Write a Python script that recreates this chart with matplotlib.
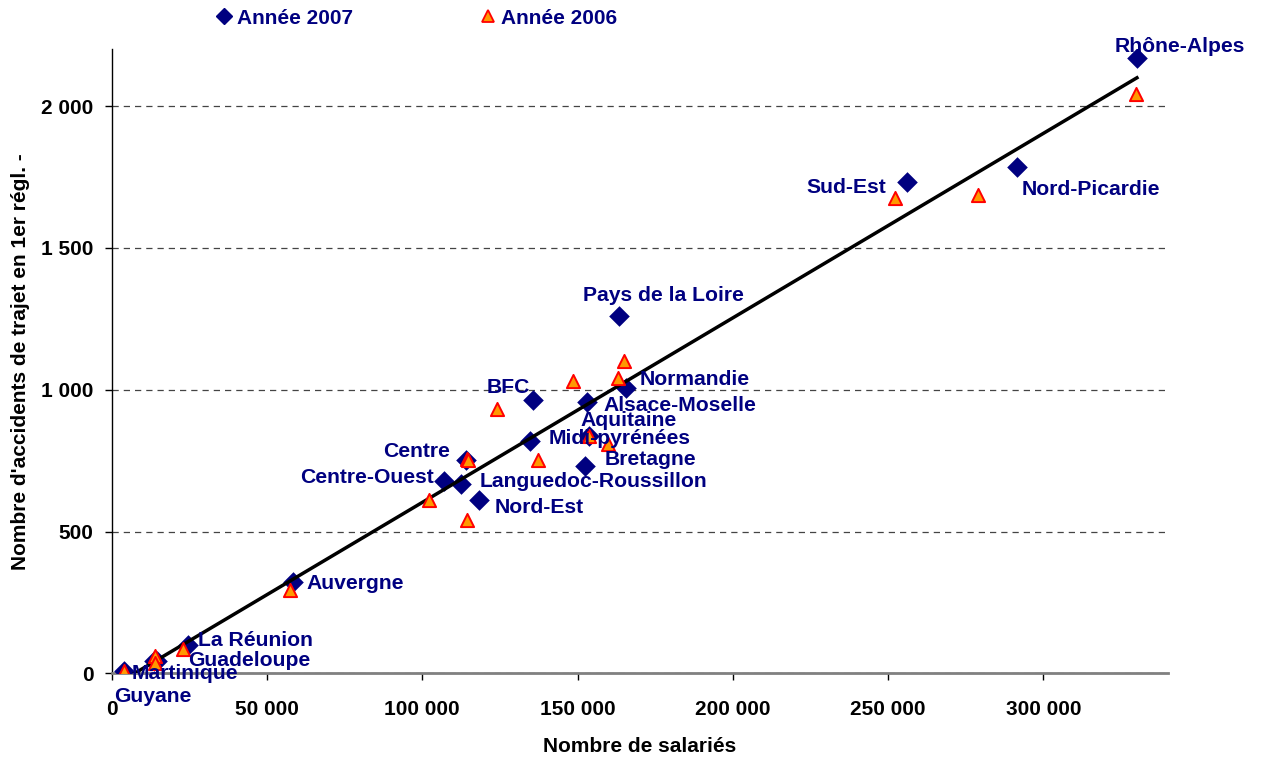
import numpy as np
import matplotlib
matplotlib.use("Agg")
import matplotlib.pyplot as plt
from matplotlib.ticker import FuncFormatter
from matplotlib.lines import Line2D

plt.rcParams['font.family'] = ['Liberation Sans', 'DejaVu Sans']
plt.rcParams['font.weight'] = 'bold'

# regions, number of employees (x) and commuting accidents (y)
regions = ["Rhône-Alpes", "Sud-Est", "Nord-Picardie", "Pays de la Loire", "Normandie",
           "Alsace-Moselle", "BFC", "Aquitaine", "Midi-pyrénées", "Bretagne", "Centre",
           "Centre-Ouest", "Languedoc-Roussillon", "Nord-Est", "Auvergne", "La Réunion",
           "Guadeloupe", "Martinique", "Guyane"]

sal_2007 = [330100, 256100, 291500, 163400, 165500, 153100, 135700, 153800, 134700, 152300,
            114100, 107000, 112400, 118400, 58500, 24700, 14500, 13500, 4100]
acc_2007 = [2169, 1732, 1785, 1261, 1006, 956, 964, 838, 821, 733,
            751, 680, 667, 612, 321, 99, 44, 45, 8]

sal_2006 = [329800, 252200, 279000, 165000, 163100, 148400, 124000, 153800, 137400, 159900,
            114500, 102000, 114700, 114300, 57400, 23100, 13900, 13900, 4000]
acc_2006 = [2042, 1676, 1687, 1102, 1040, 1032, 933, 836, 751, 810,
            756, 612, 752, 542, 293, 85, 61, 38, 8]

# label offsets in pixels from the 2007 point: (dx, dy, ha)
label_pos = {
    "Rhône-Alpes": (43, 12, 'center'),
    "Sud-Est": (-21, -5, 'right'),
    "Nord-Picardie": (5, -22, 'left'),
    "Pays de la Loire": (44, 20, 'center'),
    "Normandie": (14, 9, 'left'),
    "Alsace-Moselle": (16, -3, 'left'),
    "BFC": (-3, 12, 'right'),
    "Aquitaine": (-9, 15, 'left'),
    "Midi-pyrénées": (19, 2, 'left'),
    "Bretagne": (20, 6, 'left'),
    "Centre": (-16, 9, 'right'),
    "Centre-Ouest": (-10, 3, 'right'),
    "Languedoc-Roussillon": (19, 3, 'left'),
    "Nord-Est": (15, -8, 'left'),
    "Auvergne": (13, -1, 'left'),
    "La Réunion": (10, 5, 'left'),
    "Guadeloupe": (31, 0, 'left'),
    "Martinique": (-22, -13, 'left'),
    "Guyane": (-10, -25, 'left'),
}

navy = '#000080'

fig = plt.figure(figsize=(12.61, 7.58), dpi=100)
ax = fig.add_axes([0.0886, 0.1115, 0.8374, 0.8235])

ax.scatter(sal_2007, acc_2007, marker='D', s=10.5**2, color=navy, zorder=3, linewidths=0)
ax.scatter(sal_2006, acc_2006, marker='^', s=9.5**2, facecolor='#FF9900',
           edgecolor='#FF0000', linewidths=1.4, zorder=4)

# linear trend over both years
xs = np.array(sal_2007 + sal_2006)
ys = np.array(acc_2007 + acc_2006)
coef = np.polyfit(xs, ys, 1)
xl = np.array([min(sal_2007), max(sal_2007)])
ax.plot(xl, np.polyval(coef, xl), color='black', lw=2.5, zorder=3.5)

for name, x, y in zip(regions, sal_2007, acc_2007):
    dx, dy, ha = label_pos[name]
    ax.annotate(name, (x, y), xytext=(dx, dy), textcoords='offset pixels',
                ha=ha, va='center', color=navy, fontsize=15.2, fontweight='bold', zorder=6)

ax.set_xlim(0, 340000)
ax.set_ylim(0, 2200)
ax.set_xticks(np.arange(0, 300001, 50000))
ax.set_yticks([0, 500, 1000, 1500, 2000])
fmt = FuncFormatter(lambda v, p: f"{int(v):,}".replace(",", " "))
ax.xaxis.set_major_formatter(fmt)
ax.yaxis.set_major_formatter(fmt)
ax.tick_params(axis='x', direction='out', length=5, width=1, pad=14, labelsize=15)
ax.tick_params(axis='y', direction='out', length=5, width=1, pad=8, labelsize=15)

ax.yaxis.grid(True, linestyle=(0, (5, 4)), color='#444444', lw=0.9)
ax.set_axisbelow(True)
for s in ['top', 'right']:
    ax.spines[s].set_visible(False)
ax.spines['left'].set_color('black')
ax.spines['left'].set_linewidth(1)
ax.spines['bottom'].set_color('#808080')
ax.spines['bottom'].set_linewidth(2)

ax.set_xlabel("Nombre de salariés", fontsize=15, fontweight='bold')
ax.set_ylabel("Nombre d'accidents de trajet en 1er régl. -", fontsize=15, fontweight='bold')
ax.xaxis.set_label_coords(0.5, -0.102)
ax.yaxis.set_label_coords(-0.077, 0.5)

handles = [
    Line2D([], [], marker='D', ls='', color=navy, ms=8),
    Line2D([], [], marker='^', ls='', markerfacecolor='#FF9900', markeredgecolor='#FF0000',
           ms=8, mew=1.3),
]
leg = fig.legend(handles, ["Année 2007", "Année 2006"], loc='center', ncol=2,
                 bbox_to_anchor=(0.331, 0.976), frameon=False, fontsize=15,
                 handlelength=0.6, handletextpad=0.3, columnspacing=6.2)
for t in leg.get_texts():
    t.set_color(navy)
    t.set_fontweight('bold')

fig.savefig("out.png", dpi=100)
